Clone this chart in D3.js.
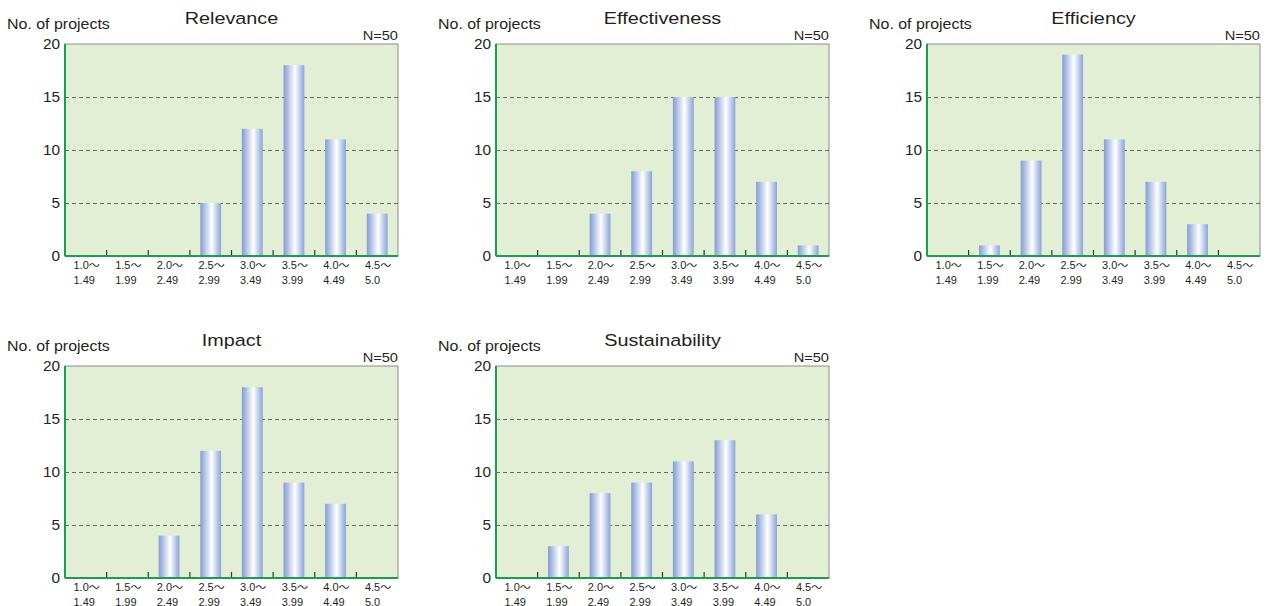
<!DOCTYPE html>
<html>
<head>
<meta charset="utf-8">
<script src="https://cdn.jsdelivr.net/npm/d3@7"></script>
<style>
  body { margin: 0; background: #fff; }
  svg text { font-family: "Liberation Sans", Arial, "Noto Sans CJK JP", sans-serif; fill: #231f20; }
</style>
</head>
<body>
<div id="chart"></div>
<script>
// bins of the rating score, shown on two lines under each bar
var binFrom = ["1.0〜", "1.5〜", "2.0〜", "2.5〜", "3.0〜", "3.5〜", "4.0〜", "4.5〜"];
var binTo = ["1.49", "1.99", "2.49", "2.99", "3.49", "3.99", "4.49", "5.0"];
var yTicks = [0, 5, 10, 15, 20];

var titles = ["Relevance", "Effectiveness", "Efficiency", "Impact", "Sustainability"];
var relevance = [0, 0, 0, 5, 12, 18, 11, 4];
var effectiveness = [0, 0, 4, 8, 15, 15, 7, 1];
var efficiency = [0, 1, 9, 19, 11, 7, 3, 0];
var impact = [0, 0, 4, 12, 18, 9, 7, 0];
var sustainability = [0, 3, 8, 9, 11, 13, 6, 0];
var series = [relevance, effectiveness, efficiency, impact, sustainability];

var W = 1266, H = 606;
var plot_w = 333, plot_h = 212;
var svg = d3.select("#chart").append("svg")
    .attr("width", W).attr("height", H);

// cylinder-like shading of the bars
var grad = svg.append("defs").append("linearGradient")
    .attr("id", "barGrad").attr("x1", "0%").attr("x2", "100%");
grad.append("stop").attr("offset", "0%").attr("stop-color", "#829cd5");
grad.append("stop").attr("offset", "55%").attr("stop-color", "#ffffff");
grad.append("stop").attr("offset", "100%").attr("stop-color", "#8aa3d9");

var x = d3.scaleBand().domain(d3.range(binFrom.length))
    .range([0, plot_w]).paddingInner(0.5).paddingOuter(0.25);
var y = d3.scaleLinear().domain([0, 20]).range([plot_h, 0]);

// the source type is a bit wider than Arial, so stretch it sideways
function label(g, tx, ty, size, sx, txt, anchor){
    return g.append("text")
        .attr("transform", "translate(" + tx + "," + ty + ") scale(" + sx + ",1)")
        .attr("text-anchor", anchor || "start")
        .style("font-size", size + "px")
        .text(txt);
}

function draw_panel(i){
    var col = i % 3, row = Math.floor(i / 3);
    var g = svg.append("g")
        .attr("transform", "translate(" + (65 + col * 431) + "," + (44 + row * 322) + ")");
    var data = series[i];

    g.append("rect")
        .attr("width", plot_w).attr("height", plot_h)
        .attr("fill", "#e2efd5").attr("stroke", "#8c8c8c").attr("stroke-width", 1);

    // dashed grid
    g.selectAll(".grid").data(yTicks.filter(function(d){ return d > 0 && d < 20; }))
        .enter().append("line")
        .attr("x1", 0).attr("x2", plot_w)
        .attr("y1", function(d){ return y(d) + 0.5; })
        .attr("y2", function(d){ return y(d) + 0.5; })
        .attr("stroke", "#4a4a4a").attr("stroke-width", 0.8)
        .attr("stroke-dasharray", "4,3");

    g.selectAll(".bar").data(data).enter().append("rect")
        .attr("x", function(d, k){ return x(k); })
        .attr("y", function(d){ return y(d); })
        .attr("width", x.bandwidth())
        .attr("height", function(d){ return plot_h - y(d); })
        .attr("fill", "url(#barGrad)");

    // tick marks between bins
    var step = x.step();
    g.selectAll(".tick").data(d3.range(1, binFrom.length)).enter().append("line")
        .attr("x1", function(k){ return k * step; })
        .attr("x2", function(k){ return k * step; })
        .attr("y1", plot_h).attr("y2", plot_h - 6)
        .attr("stroke", "#333").attr("stroke-width", 1.2);

    // axes
    g.append("line").attr("x1", 0).attr("x2", plot_w)
        .attr("y1", plot_h).attr("y2", plot_h)
        .attr("stroke", "#16a04a").attr("stroke-width", 2);
    g.append("line").attr("x1", 0).attr("x2", 0)
        .attr("y1", 0).attr("y2", plot_h)
        .attr("stroke", "#16a04a").attr("stroke-width", 2);

    yTicks.forEach(function(d){
        label(g, -5, y(d) + 5, 14, 1.1, d, "end");
    });

    binFrom.forEach(function(d, k){
        label(g, k * step + 8.5, plot_h + 13, 10, 1.1, d);
        label(g, k * step + 8.5, plot_h + 27.5, 10, 1.1, binTo[k]);
    });

    label(g, plot_w / 2, -20, 16.5, 1.2, titles[i], "middle");
    label(g, -58, -15, 14, 1.14, "No. of projects");
    label(g, plot_w, -4.5, 12.5, 1.17, "N=50", "end");
}

for(var i = 0; i < series.length; i++){
    draw_panel(i);
}
</script>
</body>
</html>
